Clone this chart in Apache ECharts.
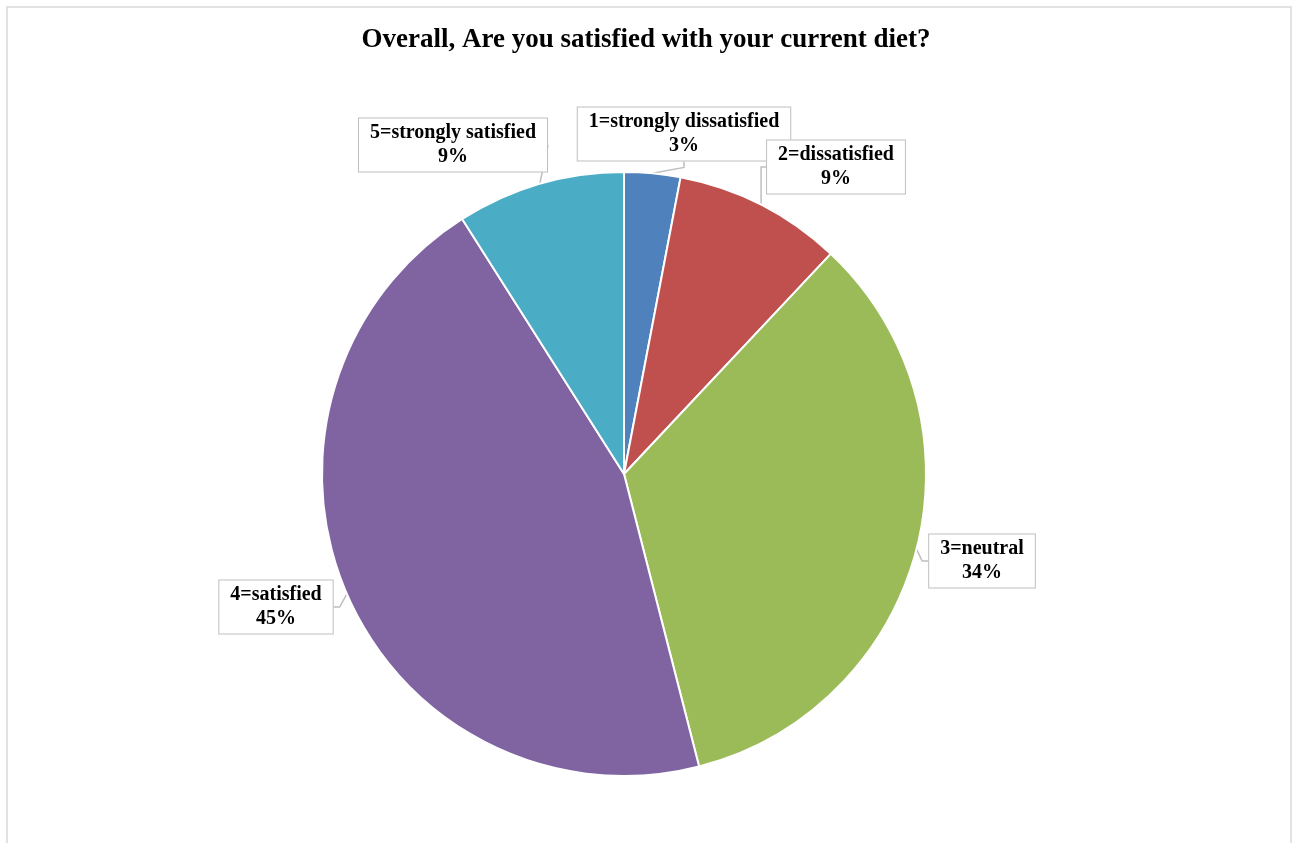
<!DOCTYPE html>
<html>
<head>
<meta charset="utf-8">
<script src="https://cdn.jsdelivr.net/npm/echarts@6/dist/echarts.min.js"></script>
<style>
  html, body { margin: 0; padding: 0; background: #ffffff; }
  #chart { width: 1292px; height: 843px; }
</style>
</head>
<body>
<div id="chart"></div>
<script>
// Survey responses: satisfaction with current diet
const categories = ['1=strongly dissatisfied', '2=dissatisfied', '3=neutral', '4=satisfied', '5=strongly satisfied'];
const shares = [3, 9, 34, 45, 9];
const colors = ['#4F81BD', '#C0504D', '#9BBB59', '#8064A2', '#4BACC6'];

// Callout box centres, by slice index
const calloutPos = [
  [684, 134],
  [836, 167],
  [982, 561],
  [276, 607],
  [453, 145]
];

const chart = echarts.init(document.getElementById('chart'), null, { renderer: 'canvas' });

const font = '"Liberation Serif", "Times New Roman", serif';

chart.setOption({
  animation: false,
  backgroundColor: '#ffffff',
  title: {
    text: 'Overall, Are you satisfied with your current diet?',
    left: 'center',
    top: 22,
    textStyle: { fontFamily: font, fontWeight: 'bold', fontSize: 27, color: '#000000' }
  },
  graphic: [{
    type: 'rect',
    shape: { x: 7, y: 7, width: 1284, height: 860 },
    style: { fill: 'none', stroke: '#d9d9d9', lineWidth: 1.5 },
    silent: true,
    z: -1
  }],
  series: [{
    type: 'pie',
    center: [624, 474],
    radius: 302,
    startAngle: 90,
    clockwise: true,
    emphasis: { disabled: true },
    itemStyle: { borderColor: '#ffffff', borderWidth: 2 },
    data: categories.map((name, i) => ({
      name,
      value: shares[i],
      itemStyle: { color: colors[i] }
    })),
    label: {
      show: true,
      formatter: p => p.name + '\n' + p.value + '%',
      fontFamily: font,
      fontWeight: 'bold',
      fontSize: 20,
      lineHeight: 24,
      color: '#000000',
      align: 'center',
      backgroundColor: '#ffffff',
      borderColor: '#bfbfbf',
      borderWidth: 1,
      padding: [3, 11, 2, 11]
    },
    labelLine: {
      show: true,
      length: 6,
      length2: 6,
      lineStyle: { color: '#bfbfbf', width: 1.5 }
    },
    labelLayout: p => ({
      x: calloutPos[p.dataIndex][0],
      y: calloutPos[p.dataIndex][1],
      align: 'center',
      verticalAlign: 'middle'
    })
  }]
});
</script>
</body>
</html>
